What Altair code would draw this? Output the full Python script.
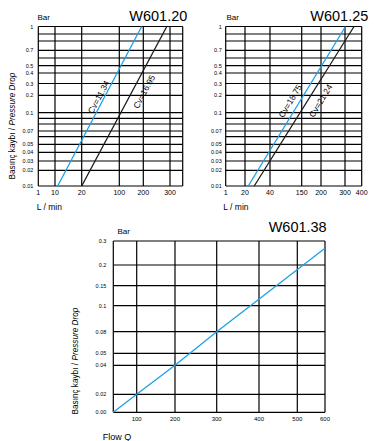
import altair as alt
import pandas as pd

FONT = "Liberation Sans Narrow, Liberation Sans, sans-serif"
FONT_REG = "Liberation Sans, Arial, sans-serif"
BLUE = "#1ea0e6"
DARK = "#1a1a1a"

# ---------------- data: W601.20 ----------------
A_TITLE = "W601.20"
A_X_TICKS = [1, 10, 20, 100, 200, 300]
A_X_LABELS = ["1", "10", "20", "100", "200", "300"]
A_X_END = 350
A_Y_GRID = [0.01, 0.02, 0.03, 0.04, 0.05, 0.06, 0.07, 0.08, 0.09, 0.1,
            0.2, 0.3, 0.4, 0.5, 0.6, 0.7, 0.8, 0.9, 1]
A_Y_LABELS = ["0.01", "0.02", "0.03", "0.04", "0.05", "", "0.07", "", "", "0.1",
              "0.2", "0.3", "0.4", "0.5", "", "0.7", "", "", "1"]
A_BLUE_Q = [11, 193]
A_BLUE_DP = [0.01, 1]
A_BLACK_Q = [20, 288]
A_BLACK_DP = [0.01, 1]
A_CV_TEXT = ["Cv=11.34", "Cv=16.95"]
A_CV_Q = [56, 203]
A_CV_DP = [0.19, 0.23]

# ---------------- data: W601.25 ----------------
B_TITLE = "W601.25"
B_X_TICKS = [1, 20, 40, 150, 200, 300, 400]
B_X_LABELS = ["1", "20", "40", "150", "200", "300", "400"]
B_Y_GRID = A_Y_GRID
B_Y_LABELS = A_Y_LABELS
B_BLUE_Q = [22.6, 303]
B_BLUE_DP = [0.01, 1]
B_BLACK_Q = [27.4, 354]
B_BLACK_DP = [0.01, 1]
B_CV_TEXT = ["Cv=18.75", "Cv=21.24"]
B_CV_Q = [110, 199]
B_CV_DP = [0.167, 0.169]

# ---------------- data: W601.38 ----------------
C_TITLE = "W601.38"
C_X_START = 0
C_X_TICKS = [100, 200, 300, 400, 500, 600]
C_X_LABELS = ["100", "200", "300", "400", "500", "600"]
C_Y_GRID = [0, 0.02, 0.04, 0.05, 0.08, 0.1, 0.15, 0.2, 0.3]
C_Y_LABELS = ["0.00", "0.02", "0.04", "0.05", "0.08", "0.1", "0.15", "0.2", "0.3"]
C_LINE_Q = [0, 100, 200, 300, 600]
C_LINE_DP = [0, 0.02, 0.04, 0.08, 0.27]

# ---------------- layout (page pixel positions of the irregular grids) ----------------
OFF = 8
A_X_PIX = [38.3, 55, 81.7, 119.3, 143.3, 170, 182.7]
B_X_PIX = [225.7, 245, 270, 301.7, 321, 345, 361.7]
TOP_Y_PIX = [186, 170.3, 161, 152.3, 144.3, 136.7, 131, 124, 118.3, 112.7,
             95.3, 83.5, 73, 65.7, 58, 50.3, 41, 34, 26.5]
C_X_PIX = [113.3, 136.7, 175, 216.7, 259, 297.3, 325]
C_Y_PIX = [412.3, 394.3, 365.3, 353.3, 331.7, 305.7, 285.7, 265, 241]


def sc(dom, pix):
    return alt.Scale(domain=dom, range=[p - OFF for p in pix], nice=False, zero=False)


def txt(text, x, y, size, align="left", style="normal", angle=0, baseline="middle",
        font=FONT, dx=0):
    return alt.Chart(pd.DataFrame({"t": [text]})).mark_text(
        font=font, fontSize=size, align=align, baseline=baseline, fontStyle=style,
        angle=angle, color="black", dx=dx
    ).encode(text="t:N", x=alt.value(x - OFF), y=alt.value(y - OFF))


def panel(xdom, xpix, ydom, ypix, xgrid, xlab_vals, xlab_txt, ygrid, ylab_txt,
          lines, cv, cv_angle, ylab_dx, xlab_dy, xlab_size, ylab_size):
    xs = sc(xdom, xpix)
    ys = sc(ydom, ypix)
    hg = alt.Chart(pd.DataFrame({"v": ygrid})).mark_rule(color="black", strokeWidth=1.2).encode(
        y=alt.Y("v:Q", scale=ys, axis=None),
        x=alt.XDatum(xdom[0], scale=xs, axis=None),
        x2=alt.X2Datum(xdom[-1]),
    )
    vg = alt.Chart(pd.DataFrame({"v": xgrid})).mark_rule(color="black", strokeWidth=1.2).encode(
        x=alt.X("v:Q", scale=xs, axis=None),
        y=alt.YDatum(ydom[0], scale=ys, axis=None),
        y2=alt.Y2Datum(ydom[-1]),
    )
    ydf = pd.DataFrame({"v": ygrid, "t": ylab_txt})
    ydf = ydf[ydf.t != ""]
    yl = alt.Chart(ydf).mark_text(font=FONT, fontSize=ylab_size, align="right",
                                  baseline="middle", dx=ylab_dx, color="black").encode(
        y=alt.Y("v:Q", scale=ys, axis=None),
        x=alt.XDatum(xdom[0], scale=xs, axis=None),
        text="t:N",
    )
    xl = alt.Chart(pd.DataFrame({"v": xlab_vals, "t": xlab_txt})).mark_text(
        font=FONT, fontSize=xlab_size, align="center", baseline="middle", dy=xlab_dy,
        color="black").encode(
        x=alt.X("v:Q", scale=xs, axis=None),
        y=alt.YDatum(ydom[0], scale=ys, axis=None),
        text="t:N",
    )
    layers = [hg, vg, yl, xl]
    for q, dp, col in lines:
        layers.append(alt.Chart(pd.DataFrame({"q": q, "dp": dp})).mark_line(
            color=col, strokeWidth=1.3).encode(
            x=alt.X("q:Q", scale=xs, axis=None),
            y=alt.Y("dp:Q", scale=ys, axis=None),
        ))
    if cv is not None:
        t, q, dp = cv
        layers.append(alt.Chart(pd.DataFrame({"t": t, "q": q, "dp": dp})).mark_text(
            font=FONT_REG, fontSize=8.5, angle=cv_angle, align="center", baseline="middle",
            color="black").encode(
            x=alt.X("q:Q", scale=xs, axis=None),
            y=alt.Y("dp:Q", scale=ys, axis=None),
            text="t:N",
        ))
    return layers


YT1 = "Basınç kaybı /"
YT2 = "Pressure Drop"

A = panel([1] + A_X_TICKS[1:] + [A_X_END], A_X_PIX, A_Y_GRID, TOP_Y_PIX,
          A_X_TICKS + [A_X_END], A_X_TICKS, A_X_LABELS, A_Y_GRID, A_Y_LABELS,
          [(A_BLUE_Q, A_BLUE_DP, BLUE), (A_BLACK_Q, A_BLACK_DP, DARK)],
          (A_CV_TEXT, A_CV_Q, A_CV_DP), 298, -5, 7, 7, 5.5)
A += [
    txt("Bar", 37.5, 17.8, 8),
    txt(A_TITLE, 187.3, 20.7, 14.5, align="right", baseline="alphabetic", font=FONT_REG),
    txt("L / min", 36.7, 206.7, 8.5, font=FONT_REG),
    txt(YT1, 12.8, 128, 8.2, align="right", angle=270, font=FONT_REG),
    txt(YT2, 12.8, 128, 8.2, align="left", angle=270, style="italic", font=FONT_REG, dx=2.5),
]

B = panel(B_X_TICKS, B_X_PIX, B_Y_GRID, TOP_Y_PIX,
          B_X_TICKS, B_X_TICKS, B_X_LABELS, B_Y_GRID, B_Y_LABELS,
          [(B_BLUE_Q, B_BLUE_DP, BLUE), (B_BLACK_Q, B_BLACK_DP, DARK)],
          (B_CV_TEXT, B_CV_Q, B_CV_DP), 301, -4, 7, 7, 5.5)
B += [
    txt("Bar", 226.5, 17.5, 8),
    txt(B_TITLE, 368.3, 20.7, 14.5, align="right", baseline="alphabetic", font=FONT_REG),
    txt("L / min", 223.3, 206.7, 8.5, font=FONT_REG),
]

C = panel([C_X_START] + C_X_TICKS, C_X_PIX, C_Y_GRID, C_Y_PIX,
          [C_X_START] + C_X_TICKS, C_X_TICKS, C_X_LABELS, C_Y_GRID, C_Y_LABELS,
          [(C_LINE_Q, C_LINE_DP, BLUE)], None, 0, -7, 6.5, 6, 5.5)
C += [
    txt("Bar", 117.5, 232.3, 8),
    txt(C_TITLE, 326.7, 232.3, 14.5, align="right", baseline="alphabetic", font=FONT_REG),
    txt("Flow Q", 102.7, 437, 9, font=FONT_REG),
    txt(YT1, 75.7, 363, 8.2, align="right", angle=270, font=FONT_REG),
    txt(YT2, 75.7, 363, 8.2, align="left", angle=270, style="italic", font=FONT_REG, dx=2.5),
]

chart = alt.layer(
    alt.layer(*A), alt.layer(*B), alt.layer(*C)
).resolve_scale(x="independent", y="independent").properties(
    width=365, height=433, padding=0, autosize="none"
).configure_view(stroke=None)

chart.save("out.html", embed_options={"renderer": "svg", "actions": False})
